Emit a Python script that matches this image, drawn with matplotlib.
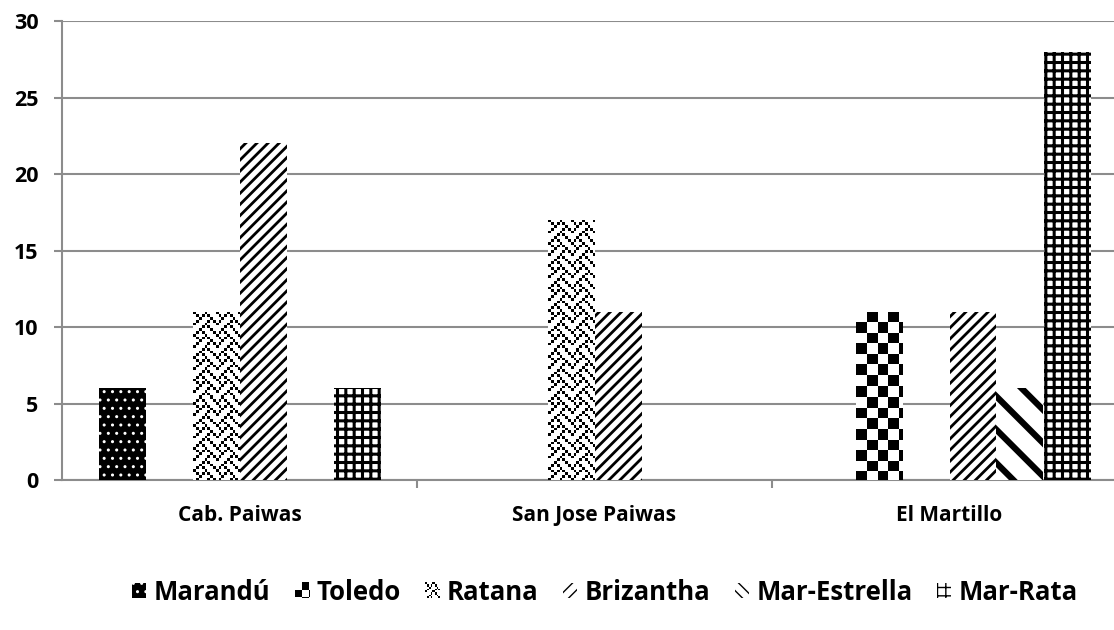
import numpy as np
import matplotlib
matplotlib.use("Agg")
import matplotlib.pyplot as plt
from matplotlib.patches import Patch, Rectangle
from matplotlib.legend_handler import HandlerBase
from matplotlib.image import BboxImage
from matplotlib.transforms import Bbox, TransformedBbox

# data
sites = ["Cab. Paiwas", "San Jose Paiwas", "El Martillo"]
series = ["Marandú", "Toledo", "Ratana", "Brizantha", "Mar-Estrella", "Mar-Rata"]
marandu = [6, 0, 0]
toledo = [0, 0, 11]
ratana = [11, 17, 0]
brizantha = [22, 11, 11]
mar_estrella = [0, 0, 6]
mar_rata = [6, 0, 28]
values = [marandu, toledo, ratana, brizantha, mar_estrella, mar_rata]

plt.rcParams["font.family"] = ["Open Sans", "DejaVu Sans"]
plt.rcParams["font.weight"] = "bold"

GRID = "#8c8c8c"

# 8x8 bitmap tiles (Office-like pattern fills)
def bits(rows):
    return np.array([[(r >> (7 - i)) & 1 for i in range(8)] for r in rows])

WEAVE = bits([0x88, 0x54, 0x22, 0x45, 0x88, 0x14, 0x22, 0x51])
CHECK = bits([0x0F, 0x0F, 0x0F, 0x0F, 0xF0, 0xF0, 0xF0, 0xF0])

# style per series: (kind, spec)
styles = [
    ("hatch", dict(facecolor="black", edgecolor="white", hatch="..", lw=1.0)),
    ("bitmap", dict(tile=CHECK, px=2.65)),
    ("bitmap", dict(tile=WEAVE, px=2.8)),
    ("hatch", dict(facecolor="white", edgecolor="black", hatch="///", lw=2.0)),
    ("hatch", dict(facecolor="white", edgecolor="black", hatch="\\", lw=4.5,
                   leg_hatch="\\\\\\")),
    ("hatch", dict(facecolor="white", edgecolor="black", hatch="++", lw=2.2)),
]


def bitmap_array(tile, px, w_px, h_px):
    w_px = max(int(round(w_px)), 1)
    h_px = max(int(round(h_px)), 1)
    rr = (np.arange(h_px) / px).astype(int) % tile.shape[0]
    cc = (np.arange(w_px) / px).astype(int) % tile.shape[1]
    return 1 - tile[np.ix_(rr, cc)]


fig = plt.figure(figsize=(11.14, 6.30), dpi=100)
ax = fig.add_axes([62 / 1114, 150 / 630, (1127 - 62) / 1114, 459 / 630])

x = np.arange(len(sites))
width = 47 / 355
ax.set_xlim(-0.5, len(sites) - 0.5)
ax.set_ylim(0, 30)

for i, (vals, (kind, spec)) in enumerate(zip(values, styles)):
    pos = x + (i - (len(series) - 1) / 2) * width
    if kind == "hatch":
        with plt.rc_context({"hatch.linewidth": spec["lw"]}):
            bars = ax.bar(pos, vals, width, facecolor=spec["facecolor"],
                          edgecolor=spec["edgecolor"], hatch=spec["hatch"],
                          linewidth=0, zorder=3)
        for b in bars:
            try:
                b.set_hatch_linewidth(spec["lw"])
            except AttributeError:
                pass
    else:
        bars = ax.bar(pos, vals, width, facecolor="white", linewidth=0, zorder=3)
        for b in bars:
            h = b.get_height()
            if h <= 0:
                continue
            x0, y0 = b.get_x(), b.get_y()
            p0 = ax.transData.transform((x0, y0))
            p1 = ax.transData.transform((x0 + b.get_width(), y0 + h))
            arr = bitmap_array(spec["tile"], spec["px"], p1[0] - p0[0], p1[1] - p0[1])
            im = ax.imshow(arr, cmap="gray", vmin=0, vmax=1, interpolation="nearest",
                           extent=(x0, x0 + b.get_width(), y0, y0 + h),
                           aspect="auto", zorder=4)
            im.set_clip_path(b)

ax.set_xlim(-0.5, len(sites) - 0.5)
ax.set_ylim(0, 30)

# axes styling
ax.set_yticks(np.arange(0, 31, 5))
ax.yaxis.grid(True, color=GRID, linewidth=1.5, zorder=0)
ax.set_axisbelow(True)
for s in ["top", "right"]:
    ax.spines[s].set_visible(False)
for s in ["left", "bottom"]:
    ax.spines[s].set_color(GRID)
    ax.spines[s].set_linewidth(1.5)
ax.tick_params(axis="y", length=6, width=1.5, color=GRID, pad=11, labelsize=15.5)
ax.set_xticks(x)
ax.set_xticklabels(sites)
ax.set_xticks(np.arange(0.5, len(sites) - 0.5, 1), minor=True)
ax.tick_params(axis="x", which="major", length=0, pad=18, labelsize=15)
ax.tick_params(axis="x", which="minor", length=6, width=1.5, color=GRID)


# legend
class BitmapHandler(HandlerBase):
    def __init__(self, tile, px):
        super().__init__()
        self.tile = tile
        self.px = px

    def create_artists(self, legend, orig_handle, xdescent, ydescent,
                       width, height, fontsize, trans):
        bb = TransformedBbox(Bbox.from_bounds(-xdescent, -ydescent, width, height), trans)
        img = BboxImage(bb, cmap="gray", norm=plt.Normalize(0, 1), interpolation="nearest")
        n = int(round(width * fig.dpi / 72))
        img.set_data(bitmap_array(self.tile, self.px * 0.6, n, n))
        return [img]


handles = []
handler_map = {}
for name, (kind, spec) in zip(series, styles):
    if kind == "hatch":
        with plt.rc_context({"hatch.linewidth": min(spec["lw"], 2.0)}):
            h = Patch(facecolor=spec["facecolor"], edgecolor=spec["edgecolor"],
                      hatch=spec.get("leg_hatch", spec["hatch"]), linewidth=0,
                      label=name)
    else:
        h = Rectangle((0, 0), 1, 1, facecolor="white", label=name)
        handler_map[h] = BitmapHandler(spec["tile"], spec["px"])
    handles.append(h)

fig.legend(handles=handles, loc="center", bbox_to_anchor=(605 / 1114, 1 - 592 / 630),
           ncol=len(series), frameon=False, fontsize=18.5, handlelength=0.55,
           handleheight=0.55, handletextpad=0.3, columnspacing=0.95,
           handler_map=handler_map)

fig.savefig("out.png", dpi=100)
